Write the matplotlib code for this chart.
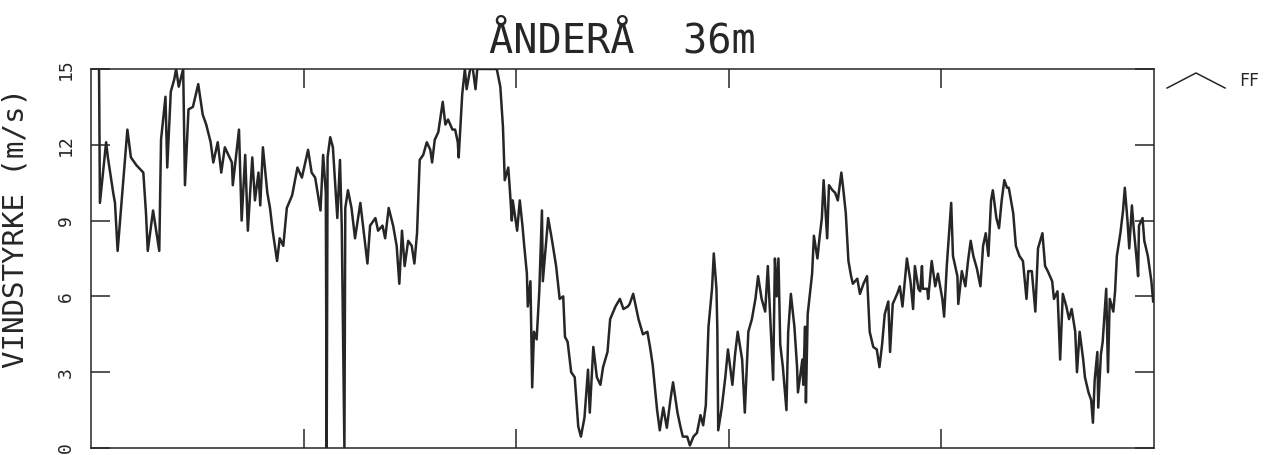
import matplotlib
matplotlib.use("Agg")
import matplotlib.pyplot as plt
from matplotlib.lines import Line2D

# ── Data: wind speed at Ånderå 36 m ──────────────────────────────────────────
hours = [
    0.9, 1.0, 1.7, 1.9, 2.5, 2.7, 3.0, 4.1, 4.5, 5.1, 5.9, 6.2, 6.4, 7.0, 7.7,
    7.9, 8.4, 8.6, 9.0, 9.4, 9.6, 9.9, 10.4, 10.6, 11.0, 11.5, 12.1, 12.6, 13.0,
    13.5, 13.8, 14.3, 14.7, 15.1, 15.9, 16.0, 16.7, 17.0, 17.4, 17.7, 18.2,
    18.5, 18.9, 19.1, 19.4, 19.9, 20.2, 20.5, 21.0, 21.3, 21.7, 22.1, 22.7,
    23.3, 23.8, 24.5, 24.9, 25.3, 25.9, 26.2, 26.5, 26.6, 26.7, 27.0, 27.3,
    27.8, 28.1, 28.3, 28.6, 28.7, 29.0, 29.4, 29.8, 30.4, 30.7, 31.2, 31.5,
    32.1, 32.4, 32.9, 33.2, 33.6, 34.1, 34.5, 34.8, 35.1, 35.4, 35.8, 36.2,
    36.5, 36.8, 37.1, 37.5, 37.9, 38.3, 38.5, 38.8, 39.2, 39.7, 40.0, 40.3,
    40.8, 41.1, 41.4, 41.5, 41.9, 42.2, 42.4, 42.8, 43.1, 43.4, 43.6, 45.8,
    46.2, 46.5, 46.7, 47.1, 47.3, 47.5, 47.6, 48.1, 48.4, 48.7, 48.9, 49.2,
    49.3, 49.6, 49.8, 50.0, 50.3, 50.6, 50.9, 51.0, 51.4, 51.6, 52.0, 52.5,
    52.9, 53.3, 53.5, 53.8, 54.2, 54.6, 55.0, 55.3, 55.7, 56.1, 56.3, 56.7,
    57.1, 57.5, 57.8, 58.3, 58.6, 59.2, 59.7, 60.1, 60.6, 60.8, 61.2, 61.8,
    62.3, 62.8, 63.1, 63.4, 63.9, 64.2, 64.6, 65.0, 65.4, 65.7, 66.2, 66.5,
    66.8, 67.3, 67.6, 68.0, 68.4, 68.8, 69.1, 69.4, 69.7, 70.1, 70.3, 70.6,
    70.7, 70.8, 71.2, 71.6, 71.9, 72.4, 72.7, 73.0, 73.5, 73.8, 74.2, 74.6,
    75.0, 75.3, 75.7, 76.1, 76.4, 77.0, 77.2, 77.4, 77.6, 77.8, 78.1, 78.5,
    78.7, 79.0, 79.4, 79.7, 79.8, 80.3, 80.4, 80.6, 80.7, 80.9, 81.4, 81.6,
    82.0, 82.2, 82.5, 82.7, 83.1, 83.3, 83.7, 84.0, 84.3, 84.7, 84.9, 85.2,
    85.5, 85.8, 86.0, 86.5, 86.8, 87.2, 87.6, 87.9, 88.3, 88.7, 89.0, 89.3,
    89.6, 90.0, 90.2, 90.5, 91.0, 91.3, 91.6, 92.1, 92.5, 92.8, 93.0, 93.4,
    93.6, 93.8, 93.9, 94.4, 94.5, 94.9, 95.3, 95.6, 96.1, 96.3, 96.6, 97.1,
    97.3, 97.8, 97.9, 98.3, 98.7, 99.0, 99.3, 99.6, 100.0, 100.4, 100.7,
    101.0, 101.3, 101.6, 101.8, 102.2, 102.5, 102.8, 103.1, 103.4, 103.6,
    104.1, 104.4, 104.8, 105.2, 105.6, 105.8, 106.2, 106.6, 106.9, 107.4,
    107.7, 108.0, 108.5, 108.7, 109.1, 109.4, 109.7, 110.1, 110.4, 110.7,
    111.1, 111.3, 111.6, 112.0, 112.2, 112.6, 112.9, 113.1, 113.3, 113.6,
    113.7, 114.0, 114.2, 114.6, 114.8, 115.0, 115.4, 115.6, 115.8, 116.2,
    116.5, 116.7, 117.0, 117.2, 117.5, 117.7, 118.0, 118.2, 118.3, 118.7,
    118.9, 119.3, 119.7, 119.9,
]
ff = [
    15.0, 9.7, 12.1, 11.5, 10.1, 9.7, 7.8, 12.6, 11.5, 11.2, 10.9, 9.3, 7.8,
    9.4, 7.8, 12.2, 13.9, 11.1, 14.1, 14.6, 15.0, 14.3, 15.0, 10.4, 13.4, 13.5,
    14.4, 13.2, 12.8, 12.1, 11.3, 12.1, 10.9, 11.9, 11.3, 10.4, 12.6, 9.0,
    11.6, 8.6, 11.5, 9.8, 10.9, 9.6, 11.9, 10.1, 9.5, 8.6, 7.4, 8.3, 8.0, 9.5,
    10.0, 11.1, 10.7, 11.8, 10.9, 10.7, 9.4, 11.6, 10.1, 0.0, 11.5, 12.3,
    11.9, 9.1, 11.4, 8.8, 0.0, 9.5, 10.2, 9.5, 8.3, 9.7, 8.8, 7.3, 8.8, 9.1,
    8.6, 8.8, 8.3, 9.5, 8.8, 8.0, 6.5, 8.6, 7.2, 8.2, 8.0, 7.3, 8.5, 11.4,
    11.6, 12.1, 11.8, 11.3, 12.2, 12.5, 13.7, 12.8, 13.0, 12.6, 12.6, 12.1,
    11.5, 14.0, 15.0, 14.2, 15.0, 15.0, 14.2, 15.0, 15.0, 14.3, 12.7, 10.6,
    11.1, 10.1, 9.0, 9.8, 8.6, 9.8, 8.8, 8.0, 6.9, 5.6, 6.6, 2.4, 4.6, 4.3,
    6.2, 9.4, 6.6, 8.3, 9.1, 8.3, 7.2, 5.9, 6.0, 4.4, 4.2, 3.0, 2.8, 0.85,
    0.45, 1.2, 3.1, 1.4, 4.0, 2.8, 2.5, 3.2, 3.8, 5.1, 5.6, 5.9, 5.5, 5.6,
    5.7, 6.1, 5.1, 4.5, 4.6, 4.0, 3.3, 1.5, 0.7, 1.6, 0.8, 1.9, 2.6, 1.4, 0.9,
    0.45, 0.45, 0.1, 0.45, 0.6, 1.3, 0.9, 1.7, 4.8, 6.3, 7.7, 6.3, 4.7, 0.7,
    1.6, 2.8, 3.9, 2.5, 3.7, 4.6, 3.5, 1.4, 4.6, 5.1, 5.9, 6.8, 5.9, 5.4, 7.2,
    2.7, 7.5, 6.0, 7.5, 4.1, 3.2, 1.5, 4.6, 6.1, 4.8, 3.2, 2.2, 3.5, 2.5, 4.8,
    1.8, 5.3, 6.9, 8.4, 7.5, 8.2, 9.1, 10.6, 8.3, 10.4, 10.2, 10.1, 9.8, 10.9,
    10.3, 9.3, 7.4, 6.8, 6.5, 6.7, 6.1, 6.5, 6.8, 4.6, 4.0, 3.9, 3.2, 4.1,
    5.3, 5.8, 3.8, 5.7, 6.1, 6.4, 5.6, 7.5, 6.6, 5.5, 7.2, 6.3, 6.2, 7.2, 6.3,
    6.3, 5.9, 7.4, 6.4, 6.9, 5.9, 5.2, 7.2, 9.7, 7.6, 6.8, 5.7, 7.0, 6.4, 7.4,
    8.2, 7.6, 7.1, 6.4, 8.0, 8.5, 7.6, 9.8, 10.2, 9.1, 8.7, 9.8, 10.6, 10.3,
    10.3, 9.3, 8.0, 7.6, 7.4, 5.9, 7.0, 7.0, 5.4, 7.9, 8.5, 7.2, 7.0, 6.6,
    5.9, 6.2, 3.5, 6.1, 5.6, 5.1, 5.5, 4.6, 3.0, 4.6, 3.5, 2.8, 2.2, 1.9, 1.0,
    2.7, 3.8, 1.6, 3.7, 4.2, 6.3, 3.0, 5.9, 5.4, 6.2, 7.6, 8.5, 9.4, 10.3,
    9.0, 7.9, 9.6, 8.7, 7.6, 6.8, 8.8, 9.1, 8.2, 7.6, 6.6, 5.8,
]

day_ticks = [24, 48, 72, 96]
ff_ticks = [0, 3, 6, 9, 12, 15]

MONO = "DejaVu Sans Mono"
INK = "#262626"

# ── Plot ──────────────────────────────────────────────────────────────────────
fig = plt.figure(figsize=(12.7, 4.55), dpi=100)
ax = fig.add_axes([0.0717, 0.0154, 0.8370, 0.8330])

ax.plot(hours, ff, color=INK, lw=1.8)

ax.set_xlim(0, 120)
ax.set_ylim(0, 15)
ax.set_xticks(day_ticks)
ax.set_xticklabels([])
ax.set_yticks(ff_ticks)
ax.set_yticklabels([str(v) for v in ff_ticks], rotation=90, va="center",
                   family=MONO, fontsize=13, color=INK)

ax.tick_params(axis="both", which="major", direction="in", length=14,
               width=1.1, color=INK, top=True, right=True)
ax.tick_params(axis="y", pad=12)
for s in ax.spines.values():
    s.set_linewidth(1.1)
    s.set_color(INK)

ax.set_ylabel("VINDSTYRKE (m/s)", family=MONO, fontsize=21, color=INK)
ax.yaxis.set_label_coords(-0.058, 0.58)

ax.set_title("ÅNDERÅ  36m", family=MONO, fontsize=29, color=INK, pad=12)

# legend glyph on the right
fig.add_artist(Line2D([0.919, 0.9417, 0.9646], [0.8066, 0.8396, 0.8066],
                      transform=fig.transFigure, color=INK, lw=1.1))
fig.text(0.976, 0.822, "FF", family=MONO, fontsize=12, color=INK,
         va="center", ha="left")

plt.savefig("out.png", dpi=100)
